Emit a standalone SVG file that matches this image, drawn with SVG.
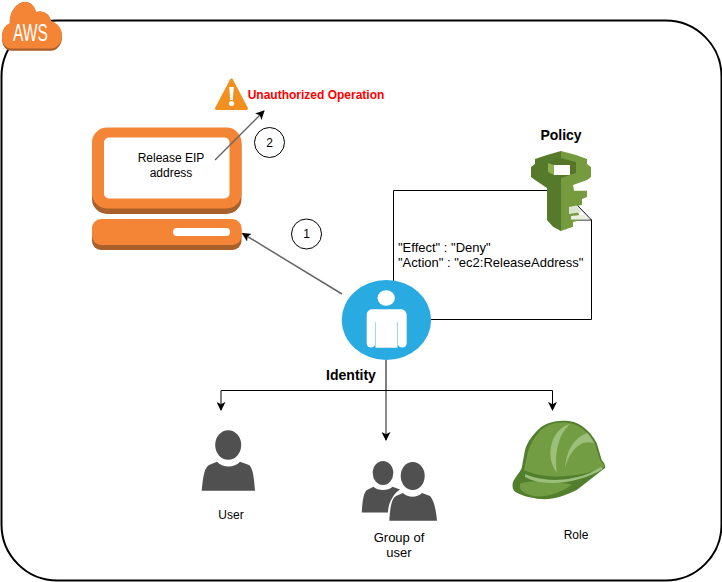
<svg xmlns="http://www.w3.org/2000/svg" width="722" height="582" viewBox="0 0 722 582">
<style>
text{font-family:"Liberation Sans",Arial,sans-serif;font-size:12px;fill:#000;text-anchor:middle}
.b{font-weight:bold;font-size:14px}
.m{font-size:13px}
.w{fill:none;stroke:#000;stroke-width:1}
.g{fill:none;stroke:#666;stroke-width:1.5}
.p{fill:#505050}
</style>
<defs>
<marker id="a" viewBox="0 0 10 10" refX="9" refY="5" markerWidth="9" markerHeight="9" markerUnits="userSpaceOnUse" orient="auto"><path d="M0 0L10 5L0 10L2.5 5Z" fill="#000"/></marker>
</defs>
<rect id="frame" x="1.500" y="20.500" width="720" height="560" rx="56" fill="#fff" stroke="#000" stroke-width="2"/>
<g id="aws">
<path d="M11 50.700C4 50 2 44 2 38C2 31 5 26 10 24C9 12 17 2 25 2C31 2 35 7 36 12C42 10 50 13 51 22C58 24 62 30 62 37C62 45 57 50.700 51 50.700Z" fill="#a9602b"/>
<path d="M11 48.500C4 48 2 42 2 36C2 30 5 25 10 23C9 12 17 2 25 2C31 2 35 7 36 12C42 10 50 13 51 21C58 23 62 29 62 35C62 43 57 48.500 51 48.500Z" fill="#f58536"/>
<text x="30.500" y="41" style="font-size:23px;fill:#fff" textLength="35" lengthAdjust="spacingAndGlyphs">AWS</text>
</g>
<g id="warning">
<path d="M231.500 80L246.500 108.500H216.500Z" fill="#f19020" stroke="#f19020" stroke-width="3" stroke-linejoin="round"/>
<path d="M229.200 87h4.600l-1 13h-2.600Z" fill="#fff"/><circle cx="231.500" cy="103.500" r="2.600" fill="#fff"/>
<text x="316" y="99" style="font-weight:bold;fill:#ff0000">Unauthorized Operation</text>
</g>
<g id="computer">
<rect x="92" y="131" width="149.500" height="83" rx="15" fill="#a9602b"/>
<rect x="92" y="127.500" width="149.500" height="81" rx="15" fill="#f58536"/>
<rect x="104" y="137.500" width="125.500" height="61" rx="5" fill="#fff"/>
<rect x="92" y="222" width="149.500" height="28" rx="9" fill="#a9602b"/>
<rect x="92" y="219" width="149.500" height="26" rx="9" fill="#f58536"/>
<rect x="173" y="228" width="57" height="8" rx="4" fill="#fff"/>
<text x="171" y="162">Release EIP</text><text x="171" y="177">address</text>
</g>
<g id="policy-note">
<path class="w" d="M393.500 290V190.500H560M577 205L591.500 220V319.500H430M560 220H591.500"/>
<text x="398" y="251.500" class="m" style="text-anchor:start">"Effect" : "Deny"</text>
<text x="398" y="266.500" class="m" style="text-anchor:start">"Action" : "ec2:ReleaseAddress"</text>
</g>
<g id="policy">
<path d="M561 151L547 155L535 159V164L531 167V177L535 180L547 188V220L553 226.700L561 231Z" fill="#557a2c"/>
<path d="M561 151L576 155L587 159V164L591 167V177L587 180L573 185L574 190.700H587V197L582 199V205L576 206L581 220L573 222V226.700L561 231Z" fill="#769b3f"/>
<path d="M548 162L561 158L576 162V173L561 178V175H554L548 172Z" fill="#557629"/>
<path d="M548 163L554 165V175L548 172Z" fill="#8eb04f"/>
<path d="M554 165H570V175H554Z" fill="#fff"/>
<path d="M569 207L576.500 205.500L582 212L569 214Z" fill="#dbe6d0"/>
<path d="M571 216L585 214.500L590 219.500H571Z" fill="#e9efe3"/>
<text x="561" y="140" class="b">Policy</text>
</g>
<g id="identity">
<ellipse cx="386.400" cy="320" rx="44.700" ry="40" fill="#29abe2"/>
<ellipse cx="386.200" cy="298" rx="8.700" ry="7.700" fill="#fff"/>
<path d="M372 309.300H401C404 309.300 406.700 312 406.700 315V343C406.700 349 398 349 397.500 343V347.700H375.500V343C375 349 366.700 349 366.700 343V315C366.700 312 369 309.300 372 309.300Z" fill="#fff"/>
<path d="M375.500 322V346M397.500 322V346" stroke="#9adcf5" stroke-width="1"/>
<text x="351" y="380" class="b">Identity</text>
</g>
<g id="user">
<ellipse cx="228.200" cy="445" rx="13" ry="14.700" fill="#505050"/>
<path class="p" d="M201.700 490.700C203 478 204 468 209 465L217 461.700C222 468 235 468 240 461.700L249 465C253 468 254 478 255 490.700Z"/>
<text x="231" y="519">User</text>
</g>
<g id="group">
<ellipse cx="383" cy="473" rx="10.300" ry="12" fill="#505050"/>
<path class="p" d="M361.700 512.500C362.500 503 363 493 367 490L373.500 486.700C378 491 388 491 392.500 486.700L400 489.500C394 493 388 503 388 512.500Z"/>
<ellipse cx="412.700" cy="476" rx="12" ry="14" fill="#505050"/>
<path class="p" d="M389.300 520.700C390 510 391 499 396 496L403 493C408 498 417 498 422 493L430 496C434 500 436 510 437 520.700Z"/>
<text x="399" y="542" class="m">Group of</text><text x="399" y="556.700" class="m">user</text>
</g>
<g id="role">
<path d="M561.700 420.700C552 421 545 424 540 428C532 435 527 443 525 450L521.700 468C519 474 514 478 512.700 483C512 487 513 490 515 491.700C522 496 532 498 540 499C548 499.500 554 498.500 560 496.700C566 495 572 492 576.700 490L605 468C605.500 465 604 462 601.700 460L596.700 443C593 436 589 431 583 426.700C577 422 570 420.500 561.700 420.700Z" fill="#527f2d"/>
<path d="M562 422.500C552 423 545 426 541 430C534 437 530 445 528 452L524 470C545 480 580 478 604 467C604 464 602 462 600 460L595 444C592 437 587 432 582 428.500C576 424 570 422.500 562 422.500Z" fill="#739d42"/>
<path d="M520 483.500C532 480 552 481 572 484.500C565 490 552 496 540 496.500C530 496 522 493 520 488Z" fill="#739d42"/>
<path d="M570 424C560 427 553 435 551 447C549 456 552 467 557 473C555 462 556 450 559 442C561 434 566 428 570 424Z" fill="#9cc07b"/>
<path d="M587 433C578 436 570 445 567 456C566 461 565 465 565 468C568 456 575 446 583 443C587 442 590 442 594 443C592 439 590 436 587 433Z" fill="#9cc07b"/>
<path d="M525 474C545 483 570 481 590 473L601 467L603 469C590 477 570 483 552 483C540 483 530 480 525 477Z" fill="#9cc07b"/>
<text x="576" y="539">Role</text>
</g>
<g id="connectors">
<path class="g" d="M342 294L242.500 233.500" marker-end="url(#a)"/>
<path class="g" d="M215 160L264 111" marker-end="url(#a)"/>
<path class="w" d="M386 360V390.500H221V410" marker-end="url(#a)"/>
<path class="w" d="M386 390.500H552.500V410" marker-end="url(#a)"/>
<path class="g" d="M386 391V440" marker-end="url(#a)"/>
</g>
<g id="step-1"><circle cx="306.500" cy="234" r="15" fill="#fff" stroke="#000"/><text x="306.500" y="238">1</text></g>
<g id="step-2"><circle cx="269.500" cy="142.500" r="15" fill="#fff" stroke="#000"/><text x="269.500" y="146.500">2</text></g>
</svg>
